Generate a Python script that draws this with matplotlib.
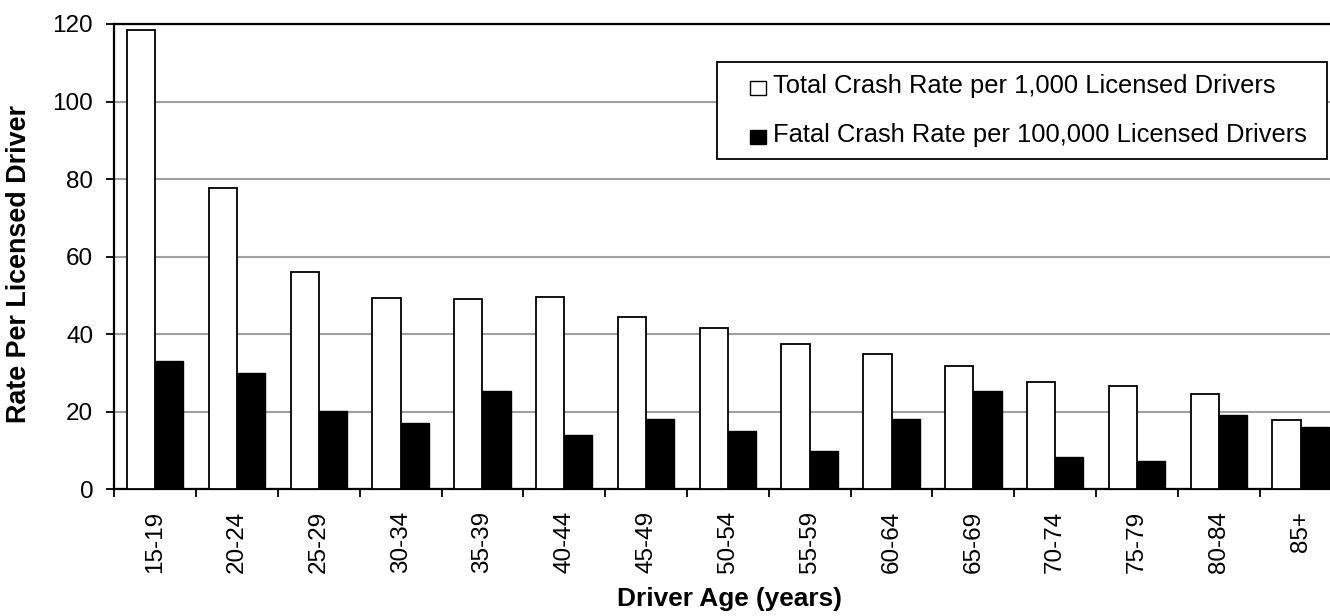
import numpy as np
import matplotlib
matplotlib.use("Agg")
import matplotlib.pyplot as plt
from matplotlib.patches import Rectangle
from matplotlib.legend_handler import HandlerBase

plt.rcParams['font.family'] = ['Liberation Sans', 'DejaVu Sans']

age_groups = ["15-19", "20-24", "25-29", "30-34", "35-39", "40-44", "45-49",
              "50-54", "55-59", "60-64", "65-69", "70-74", "75-79", "80-84", "85+"]
total_rate = [118.5, 77.8, 56.1, 49.4, 49.0, 49.5, 44.4, 41.7, 37.6, 35.0,
              31.9, 27.8, 26.7, 24.7, 18.0]
fatal_rate = [33.1, 30.0, 20.2, 17.1, 25.4, 14.1, 18.1, 15.1, 9.9, 18.1,
              25.4, 8.4, 7.3, 19.2, 16.1]
yticks = [0, 20, 40, 60, 80, 100, 120]
legend_labels = ["Total Crash Rate per 1,000 Licensed Drivers",
                 "Fatal Crash Rate per 100,000 Licensed Drivers"]


class SquareHandler(HandlerBase):
    def create_artists(self, legend, orig_handle, xdescent, ydescent,
                       width, height, fontsize, trans):
        w, h = 11.5, 10.0
        r = Rectangle((-xdescent + width - w, -ydescent - 1.4), w, h,
                      facecolor=orig_handle.get_facecolor(),
                      edgecolor='black', linewidth=1.0, transform=trans)
        return [r]


W, H = 1330, 616
fig = plt.figure(figsize=(W / 100, H / 100), dpi=100)
x0, x1 = 114.3, 1341.5
y0, y1 = 489.3, 24.0
ax = fig.add_axes([x0 / W, (H - y0) / H, (x1 - x0) / W, (y0 - y1) / H])

x = np.arange(len(age_groups))
bw = 0.345
b1 = ax.bar(x - bw / 2, total_rate, width=bw, facecolor='white',
            edgecolor='black', linewidth=1.3, zorder=3)
b2 = ax.bar(x + bw / 2, fatal_rate, width=bw, facecolor='black',
            edgecolor='black', linewidth=1.0, zorder=3)

ax.set_xlim(-0.5, len(age_groups) - 0.5)
ax.set_ylim(0, 120)
ax.set_yticks(yticks)
ax.set_yticklabels([str(v) for v in yticks])
ax.yaxis.grid(True, color='#a0a0a0', linewidth=1.5, zorder=0)
ax.set_axisbelow(True)

ax.set_xticks(np.arange(len(age_groups) + 1) - 0.5)
ax.set_xticklabels([])
ax.set_xticks(x, minor=True)
ax.set_xticklabels(age_groups, minor=True, rotation=90, fontsize=17.5)
ax.tick_params(axis='x', which='major', direction='out', length=5.8,
               width=1.3, color='black')
ax.tick_params(axis='x', which='minor', length=0, pad=15.4)
ax.tick_params(axis='y', direction='out', length=5.8, width=1.3,
               labelsize=17.5, pad=9.4)

for s in ['left', 'bottom', 'top']:
    ax.spines[s].set_linewidth(1.6)
    ax.spines[s].set_color('black')
ax.spines['right'].set_visible(False)

ax.set_ylabel("Rate Per Licensed Driver", fontsize=19.4, fontweight='bold')
ax.yaxis.set_label_coords(-0.067, 0.485)
ax.set_xlabel("Driver Age (years)", fontsize=18.9, fontweight='bold')
ax.xaxis.set_label_coords(0.5015, -0.2095)

lx0, ly0, lx1, ly1 = 717.3, 61.7, 1326.7, 161.0
leg = ax.legend([b1[0], b2[0]], legend_labels,
                handler_map={Rectangle: SquareHandler()},
                loc='upper left',
                bbox_to_anchor=(lx0 / W, 1 - ly1 / H, (lx1 - lx0) / W, (ly1 - ly0) / H),
                bbox_transform=fig.transFigure, mode='expand',
                borderaxespad=0, borderpad=0.5, fontsize=18.35,
                handlelength=1.4, handleheight=0.7, handletextpad=0.3,
                labelspacing=0.95, fancybox=False, framealpha=1,
                edgecolor='black')
leg.get_frame().set_linewidth(1.3)
leg.set_zorder(5)

fig.savefig("out.png", dpi=100)
